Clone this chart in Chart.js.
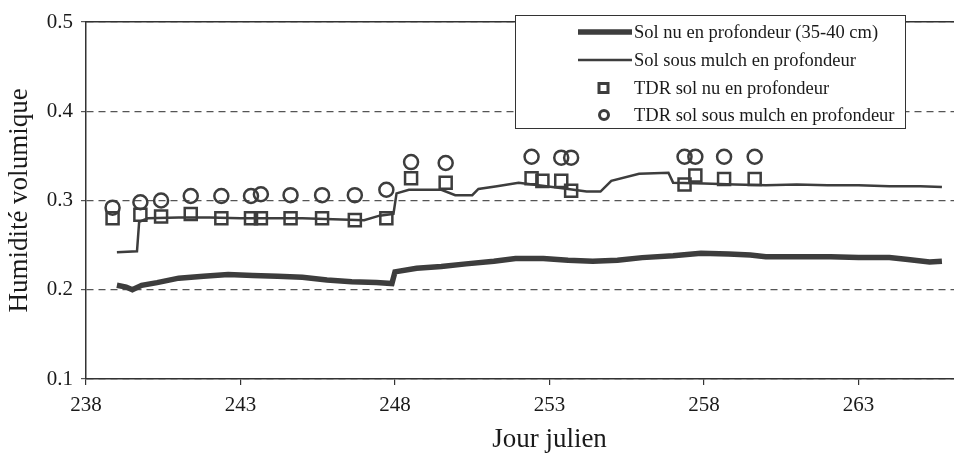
<!DOCTYPE html>
<html>
<head>
<meta charset="utf-8">
<title>Humidité volumique en profondeur</title>
<script src="https://cdn.jsdelivr.net/npm/chart.js@4.4.1/dist/chart.umd.min.js"></script>
<style>
  html, body { margin: 0; padding: 0; background: #fff; overflow: hidden; }
  #wrap { width: 1024px; height: 457px; }
</style>
</head>
<body>
<div id="wrap"><canvas id="soilChart" width="1024" height="457"></canvas></div>
<script>
// jour julien / humidite volumique
const SOL_NU_DAYS = [239.0, 239.3, 239.5, 239.8, 240.3, 241.0, 241.8, 242.6, 243.4, 244.2, 245.0, 245.8, 246.6, 247.4, 247.9,
    248.0, 248.7, 249.5, 250.3, 251.2, 251.9, 252.8, 253.6, 254.4, 255.2, 256.0, 257.0, 257.9, 258.8, 259.5, 260.0,
    261.0, 262.1, 263.0, 264.0, 264.6, 265.3, 265.7]
const SOL_NU_VALUES = [0.205, 0.203, 0.200, 0.205, 0.208, 0.213, 0.215, 0.217, 0.216, 0.215, 0.214, 0.211, 0.209, 0.208, 0.207,
    0.220, 0.224, 0.226, 0.229, 0.232, 0.235, 0.235, 0.233, 0.232, 0.233, 0.236, 0.238, 0.241, 0.240, 0.239, 0.237,
    0.237, 0.237, 0.236, 0.236, 0.234, 0.231, 0.232]

const MULCH_DAYS = [239.0, 239.65, 239.72, 240.0, 241.0, 242.0, 243.0, 244.0, 245.0, 246.0, 247.0, 247.5, 247.95,
    248.05, 248.45, 249.5, 249.95, 250.5, 250.7, 251.3, 252.0, 252.9, 253.6, 254.2, 254.65, 255.0, 255.9, 256.85,
    257.0, 258.0, 259.0, 260.0, 261.0, 262.0, 263.0, 264.0, 265.0, 265.7]
const MULCH_VALUES = [0.242, 0.243, 0.276, 0.280, 0.281, 0.281, 0.280, 0.280, 0.280, 0.279, 0.278, 0.283, 0.285,
    0.308, 0.312, 0.312, 0.306, 0.306, 0.313, 0.316, 0.320, 0.316, 0.313, 0.310, 0.310, 0.322, 0.330, 0.331,
    0.320, 0.319, 0.318, 0.317, 0.318, 0.317, 0.317, 0.316, 0.316, 0.315]

const TDR_NU_DAYS = [238.86, 239.76, 240.43, 241.39, 242.38, 243.34, 243.66, 244.62, 245.64, 246.70, 247.72,
    248.52, 249.64, 252.42, 252.77, 253.38, 253.70, 257.37, 257.72, 258.65, 259.64]
const TDR_NU_VALUES = [0.280, 0.284, 0.282, 0.285, 0.280, 0.280, 0.280, 0.280, 0.280, 0.278, 0.280,
    0.325, 0.320, 0.325, 0.322, 0.322, 0.311, 0.318, 0.328, 0.324, 0.324]

const TDR_MULCH_DAYS = [238.86, 239.76, 240.43, 241.39, 242.38, 243.34, 243.66, 244.62, 245.64, 246.70, 247.72,
    248.52, 249.64, 252.42, 253.38, 253.70, 257.37, 257.72, 258.65, 259.64]
const TDR_MULCH_VALUES = [0.292, 0.298, 0.300, 0.305, 0.305, 0.305, 0.307, 0.306, 0.306, 0.306, 0.312,
    0.343, 0.342, 0.349, 0.348, 0.348, 0.349, 0.349, 0.349, 0.349]

const LABELS = [
    'Sol nu en profondeur (35-40 cm)',
    'Sol sous mulch en profondeur',
    'TDR sol nu en profondeur',
    'TDR sol sous mulch en profondeur'
]

const INK = '#1a1a1a'
const MARK = '#3d3d3d'

const toPoints = (days, values) => days.map((d, i) => ({ x: d, y: values[i] }))

// legende dans un cadre, en haut a droite du graphique
const legendBox = {
    id: 'legendBox',
    afterDraw(chart) {
        const ctx = chart.ctx
        const box = { x: 515, y: 15, w: 390, h: 113 }
        const rowY = [32, 60, 88, 115]
        ctx.save()
        ctx.fillStyle = '#fff'
        ctx.fillRect(box.x, box.y, box.w, box.h)
        ctx.strokeStyle = '#333'
        ctx.lineWidth = 1
        ctx.strokeRect(box.x + 0.5, box.y + 0.5, box.w, box.h)

        chart.data.datasets.forEach((ds, i) => {
            const y = rowY[i]
            ctx.strokeStyle = MARK
            if (ds.showLine) {
                ctx.lineWidth = ds.borderWidth
                ctx.beginPath()
                ctx.moveTo(578, y)
                ctx.lineTo(632, y)
                ctx.stroke()
            } else {
                ctx.lineWidth = 3
                ctx.beginPath()
                if (ds.pointStyle === 'rect') ctx.rect(599, y - 4.5, 9, 9)
                else ctx.arc(604, y, 4.5, 0, Math.PI * 2)
                ctx.stroke()
            }
            ctx.fillStyle = INK
            ctx.font = '18.5px "Liberation Serif", serif'
            ctx.textBaseline = 'middle'
            ctx.fillText(ds.label, 634, y + 1)
        })
        ctx.restore()
    }
}

window.onload = function () {
    Chart.defaults.font.family = '"Liberation Serif", "Times New Roman", serif'
    Chart.defaults.color = INK

    const canvas = document.getElementById('soilChart')

    new Chart(canvas, {
        type: 'scatter',
        data: {
            datasets: [
                {
                    label: LABELS[0],
                    data: toPoints(SOL_NU_DAYS, SOL_NU_VALUES),
                    showLine: true,
                    borderColor: MARK,
                    borderWidth: 5.5,
                    pointRadius: 0,
                    tension: 0
                },
                {
                    label: LABELS[1],
                    data: toPoints(MULCH_DAYS, MULCH_VALUES),
                    showLine: true,
                    borderColor: MARK,
                    borderWidth: 2.5,
                    pointRadius: 0,
                    tension: 0
                },
                {
                    label: LABELS[2],
                    data: toPoints(TDR_NU_DAYS, TDR_NU_VALUES),
                    showLine: false,
                    pointStyle: 'rect',
                    pointRadius: 8.5,
                    borderColor: MARK,
                    borderWidth: 2.5,
                    backgroundColor: 'rgba(0,0,0,0)'
                },
                {
                    label: LABELS[3],
                    data: toPoints(TDR_MULCH_DAYS, TDR_MULCH_VALUES),
                    showLine: false,
                    pointStyle: 'circle',
                    pointRadius: 7,
                    borderColor: MARK,
                    borderWidth: 2.5,
                    backgroundColor: 'rgba(0,0,0,0)'
                }
            ]
        },
        options: {
            responsive: false,
            animation: false,
            layout: { padding: 0 },
            plugins: {
                legend: { display: false },
                tooltip: { enabled: false }
            },
            scales: {
                x: {
                    type: 'linear',
                    min: 238,
                    max: 268,
                    afterFit: (scale) => {
                        scale.height = 78
                        scale.paddingLeft = 0
                        scale.paddingRight = 0
                    },
                    ticks: { stepSize: 5, maxRotation: 0, padding: 8, color: INK, font: { size: 21 } },
                    grid: { drawOnChartArea: false, tickLength: 6, color: '#333', lineWidth: 1.2 },
                    border: { color: '#333', width: 1.5 },
                    title: {
                        display: true,
                        text: 'Jour julien',
                        color: INK,
                        font: { size: 27 },
                        padding: { top: 0, bottom: 1 }
                    }
                },
                xTop: {
                    type: 'linear',
                    position: 'top',
                    min: 238,
                    max: 268,
                    afterFit: (scale) => {
                        scale.height = 22
                        scale.paddingLeft = 0
                        scale.paddingRight = 0
                    },
                    ticks: { display: false },
                    grid: { display: false },
                    border: { color: '#333', width: 1.5 }
                },
                y: {
                    min: 0.1,
                    max: 0.5,
                    afterFit: (scale) => {
                        scale.width = 86
                        scale.paddingTop = 0
                        scale.paddingBottom = 0
                    },
                    ticks: {
                        stepSize: 0.1,
                        padding: 8,
                        color: INK,
                        font: { size: 21 },
                        callback: (v) => v.toFixed(1)
                    },
                    grid: { color: '#555', lineWidth: 1.2, tickLength: 5 },
                    border: { color: '#333', width: 1.5, dash: [7, 5] },
                    title: {
                        display: true,
                        text: 'Humidité volumique',
                        color: INK,
                        font: { size: 27 },
                        padding: { top: 4, bottom: 0 }
                    }
                }
            }
        },
        plugins: [legendBox]
    })
}
</script>
</body>
</html>
